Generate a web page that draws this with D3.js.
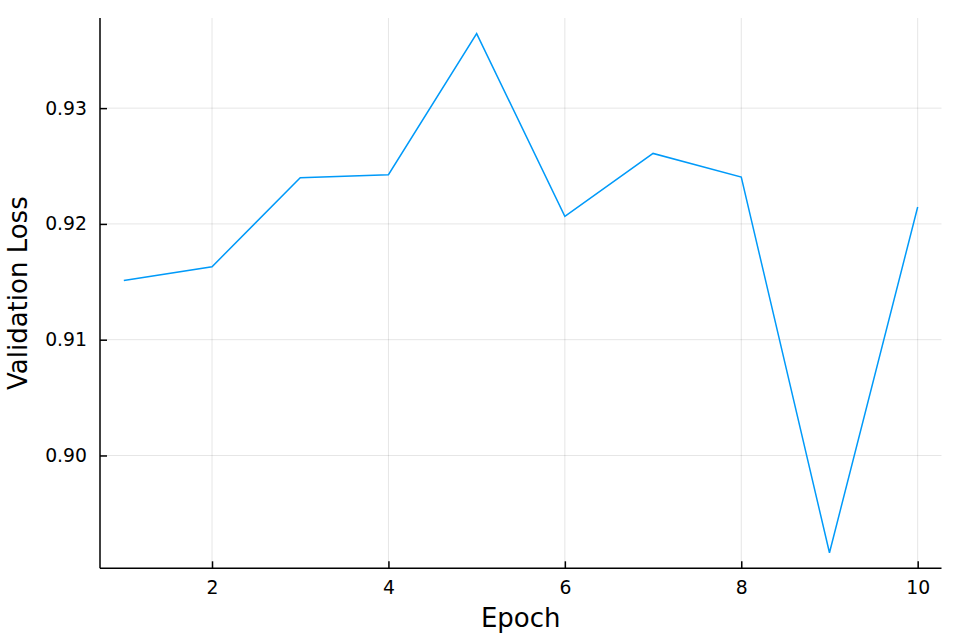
<!DOCTYPE html>
<html><head><meta charset="utf-8">
<script src="https://cdn.jsdelivr.net/npm/d3@7"></script>
<style>body{margin:0;background:#fff}svg{display:block}</style>
</head><body>
<svg id="c" width="960" height="640"></svg>
<script>
const epochs = [1,2,3,4,5,6,7,8,9,10];
const valLoss = [0.91512,0.91630,0.92399,0.92425,0.93644,0.92065,0.92609,0.92405,0.89160,0.92146];
const xTicks = [2,4,6,8,10];
const yTicks = [0.90,0.91,0.92,0.93];

const W=960,H=640;
const m={left:100,right:941.5,top:18,bottom:568.3};
const svg=d3.select("#c");
const font="'DejaVu Sans', sans-serif";

const [xmin,xmax]=d3.extent(epochs), xp=(xmax-xmin)*0.03;
const [ymin,ymax]=d3.extent(valLoss), yp=(ymax-ymin)*0.03;
const x=d3.scaleLinear().domain([xmin-xp,xmax+xp]).range([m.left,m.right]);
const y=d3.scaleLinear().domain([ymin-yp,ymax+yp]).range([m.bottom,m.top]);

// grid
const g=svg.append("g");
g.selectAll(".gx").data(xTicks).join("line")
 .attr("x1",d=>x(d)).attr("x2",d=>x(d)).attr("y1",m.top).attr("y2",m.bottom)
 .attr("stroke","#000").attr("stroke-opacity",0.1).attr("stroke-width",1);
g.selectAll(".gy").data(yTicks).join("line")
 .attr("y1",d=>y(d)).attr("y2",d=>y(d)).attr("x1",m.left).attr("x2",m.right)
 .attr("stroke","#000").attr("stroke-opacity",0.1).attr("stroke-width",1);

// axes
const xAxis=d3.axisBottom(x).tickValues(xTicks).tickSize(-7).tickPadding(12).tickFormat(d3.format("d"));
const yAxis=d3.axisLeft(y).tickValues(yTicks).tickSize(-7).tickPadding(13).tickFormat(d3.format(".2f"));
const ax=svg.append("g").attr("transform",`translate(0,${m.bottom})`).call(xAxis);
const ay=svg.append("g").attr("transform",`translate(${m.left},0)`).call(yAxis);
[ax,ay].forEach(a=>{
  a.select(".domain").attr("stroke","#000").attr("stroke-width",1.5);
  a.selectAll(".tick line").attr("stroke","#000").attr("stroke-width",1.5);
  a.selectAll(".tick text").attr("font-family",font).attr("font-size","18.8px").attr("fill","#000");
});
ax.select(".domain").attr("d",`M${m.left},0H${m.right}`);
ay.select(".domain").attr("d",`M0,${m.top}V${m.bottom}`);

// line
svg.append("path").datum(epochs.map((e,i)=>[e,valLoss[i]]))
 .attr("fill","none").attr("stroke","#009AF9").attr("stroke-width",1.5)
 .attr("stroke-linejoin","miter")
 .attr("d",d3.line().x(d=>x(d[0])).y(d=>y(d[1])));

// labels
svg.append("text").attr("x",(m.left+m.right)/2).attr("y",626.5)
 .attr("text-anchor","middle").attr("font-family",font).attr("font-size","26px").text("Epoch");
svg.append("text").attr("transform",`translate(26.5,${(m.top+m.bottom)/2}) rotate(-90)`)
 .attr("text-anchor","middle").attr("font-family",font).attr("font-size","26px").text("Validation Loss");
</script>
</body></html>
